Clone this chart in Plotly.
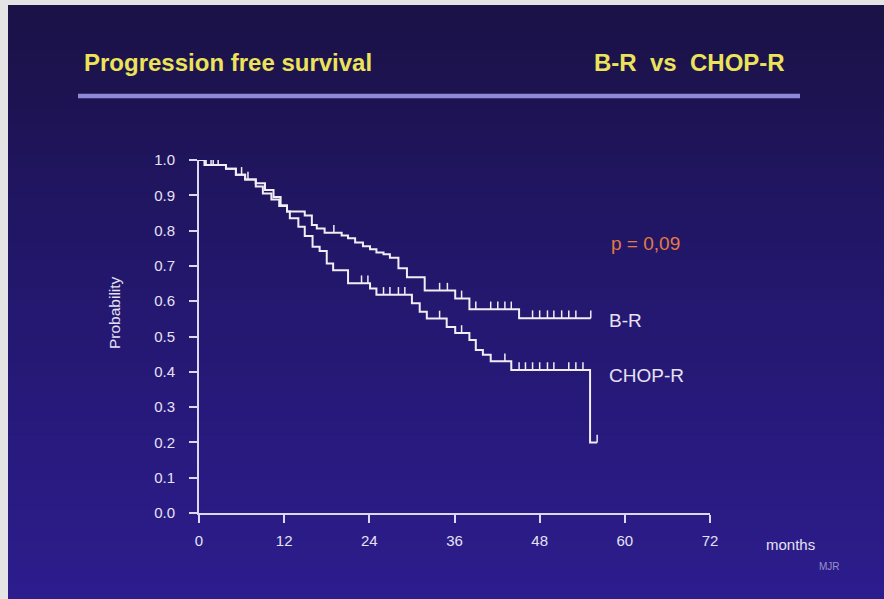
import plotly.graph_objects as go

# ---------------- data ----------------
months_ticks = [0, 12, 24, 36, 48, 60, 72]
prob_ticks = [0.0, 0.1, 0.2, 0.3, 0.4, 0.5, 0.6, 0.7, 0.8, 0.9, 1.0]

br_t = [0, 0.8, 3.8, 5.2, 6.5, 8.0, 9.3, 10.5, 11.5, 12.4, 14.9, 15.9, 16.6, 17.7,
        20.1, 21.0, 22.0, 23.1, 24.1, 25.0, 26.0, 26.9, 28.1, 29.3, 31.8, 36.1,
        38.1, 45.1, 55.2]
br_s = [1.0, 0.986, 0.975, 0.958, 0.945, 0.934, 0.915, 0.895, 0.872, 0.854, 0.843,
        0.816, 0.806, 0.794, 0.786, 0.778, 0.766, 0.756, 0.747, 0.738, 0.733, 0.723,
        0.693, 0.668, 0.630, 0.608, 0.577, 0.552, 0.552]

chop_t = [0, 0.8, 3.8, 5.2, 6.5, 8.0, 9.0, 10.2, 11.3, 12.4, 12.8, 14.0, 14.9, 16.0,
          17.0, 18.0, 18.9, 21.0, 24.1, 25.0, 30.0, 31.1, 32.1, 34.9, 36.1, 38.1,
          39.0, 40.0, 41.1, 44.0, 55.1, 56.1]
chop_s = [1.0, 0.986, 0.975, 0.958, 0.945, 0.925, 0.905, 0.888, 0.870, 0.854, 0.835,
          0.811, 0.785, 0.754, 0.742, 0.707, 0.688, 0.651, 0.636, 0.618, 0.594, 0.570,
          0.551, 0.527, 0.510, 0.490, 0.462, 0.448, 0.430, 0.405, 0.200, 0.200]

br_cens = [1.7, 2.7, 6.0, 19.0, 33.9, 35.0, 37.0, 39.0, 41.1, 42.1, 43.1, 44.0,
           47.0, 48.0, 49.1, 50.0, 51.1, 52.1, 53.1, 55.2]
chop_cens = [1.0, 2.0, 6.9, 22.9, 23.8, 26.0, 26.9, 28.1, 29.0, 33.9, 37.0, 43.1,
             45.1, 46.0, 47.0, 48.0, 49.1, 50.0, 52.1, 53.1, 54.1, 56.1]

title_left = "Progression free survival"
title_right = "B-R\u00a0\u00a0vs\u00a0\u00a0CHOP-R"
p_text = "p = 0,09"
label_br = "B-R"
label_chop = "CHOP-R"

# ---------------- geometry helpers ----------------
W, H = 884, 599
L, R, T, B = 199, 710, 160, 513


def px(x):
    return (x - L) / (R - L)


def py(y):
    return (B - y) / (B - T)


def step_at(ts, ss, t):
    v = ss[0]
    for ti, si in zip(ts, ss):
        if ti <= t + 1e-9:
            v = si
    return v


curve_col = "#f2ecf4"
axis_col = "#dcd8f2"
text_col = "#e6e2f4"

fig = go.Figure()

for ts, ss, cens in [(br_t, br_s, br_cens), (chop_t, chop_s, chop_cens)]:
    fig.add_trace(go.Scatter(x=ts, y=ss, mode="lines", line_shape="hv",
                             line=dict(color=curve_col, width=2),
                             cliponaxis=False, hoverinfo="skip", showlegend=False))
    cy = [step_at(ts, ss, c) for c in cens]
    fig.add_trace(go.Scatter(x=cens, y=cy, mode="markers",
                             marker=dict(size=1, color=curve_col, opacity=0),
                             error_y=dict(type="data", symmetric=False,
                                          array=[0.022] * len(cens),
                                          arrayminus=[0] * len(cens),
                                          width=0, thickness=1.5, color=curve_col),
                             cliponaxis=False, hoverinfo="skip", showlegend=False))

# ---------------- background gradient (overlapping bands, no seams) ----------------
shapes = []
top_c = (27, 18, 70)
mid_c = (36, 24, 112)
bot_c = (45, 29, 142)
N = 40
y0p, y1p = 5, H
for i in range(N):
    ya = y0p + (y1p - y0p) * i / N
    f = (i + 0.5) / N
    if f < 0.5:
        g = f / 0.5
        c = tuple(int(top_c[k] + (mid_c[k] - top_c[k]) * g) for k in range(3))
    else:
        g = (f - 0.5) / 0.5
        c = tuple(int(mid_c[k] + (bot_c[k] - mid_c[k]) * g) for k in range(3))
    shapes.append(dict(type="rect", xref="paper", yref="paper",
                       x0=px(8), x1=px(W + 2), y0=py(H + 2), y1=py(ya),
                       fillcolor="rgb(%d,%d,%d)" % c, line=dict(width=0),
                       layer="below"))

# separator line
shapes.append(dict(type="line", xref="paper", yref="paper",
                   x0=px(78), x1=px(800), y0=py(96), y1=py(96),
                   line=dict(color="#8f8ad8", width=4.5), layer="above"))

annotations = [
    dict(text="<b>%s</b>" % title_left, x=px(82), y=py(62), xanchor="left",
         yanchor="middle", font=dict(family="Liberation Sans, Arial",
                                     size=24, color="#ebe35a")),
    dict(text="<b>%s</b>" % title_right, x=px(787), y=py(62), xanchor="right",
         yanchor="middle", font=dict(family="Liberation Sans, Arial",
                                     size=24, color="#ebe35a")),
    dict(text=p_text, x=px(609), y=py(243), xanchor="left", yanchor="middle",
         font=dict(family="Liberation Sans, Arial", size=19, color="#e47a44")),
    dict(text=label_br, x=px(607), y=py(320), xanchor="left", yanchor="middle",
         font=dict(family="Liberation Sans, Arial", size=19, color=text_col)),
    dict(text=label_chop, x=px(607), y=py(375), xanchor="left", yanchor="middle",
         font=dict(family="Liberation Sans, Arial", size=19, color=text_col)),
    dict(text="months", x=px(764), y=py(544), xanchor="left", yanchor="middle",
         font=dict(family="Liberation Sans, Arial", size=15, color=text_col)),
    dict(text="MJR", x=px(817), y=py(566), xanchor="left", yanchor="middle",
         font=dict(family="Liberation Sans, Arial", size=10, color="#9a92c8")),
    dict(text="Probability", x=px(114), y=py(313), xanchor="center", yanchor="middle",
         textangle=-90,
         font=dict(family="Liberation Sans, Arial", size=15.5, color=text_col)),
]
for a in annotations:
    a.update(xref="paper", yref="paper", showarrow=False)

fig.update_layout(
    width=W, height=H,
    margin=dict(l=L, r=W - R, t=T, b=H - B, pad=0),
    paper_bgcolor="#e4e4e4",
    plot_bgcolor="rgba(0,0,0,0)",
    shapes=shapes,
    annotations=annotations,
    showlegend=False,
)
fig.update_xaxes(range=[0, 72], tickvals=months_ticks,
                 ticktext=[str(v) for v in months_ticks],
                 showgrid=False, zeroline=False, showline=True,
                 linecolor=axis_col, linewidth=2, ticks="outside", ticklen=8,
                 tickwidth=1.5, tickcolor=axis_col, ticklabelstandoff=5,
                 tickfont=dict(family="Liberation Sans, Arial", size=15, color=text_col))
fig.update_yaxes(range=[0, 1], tickvals=prob_ticks,
                 ticktext=["%.1f" % v for v in prob_ticks],
                 showgrid=False, zeroline=False, showline=True,
                 linecolor=axis_col, linewidth=2, ticks="outside", ticklen=8,
                 tickwidth=1.5, tickcolor=axis_col, ticklabelstandoff=11,
                 tickfont=dict(family="Liberation Sans, Arial", size=15, color=text_col))

fig.write_html("out.html")
